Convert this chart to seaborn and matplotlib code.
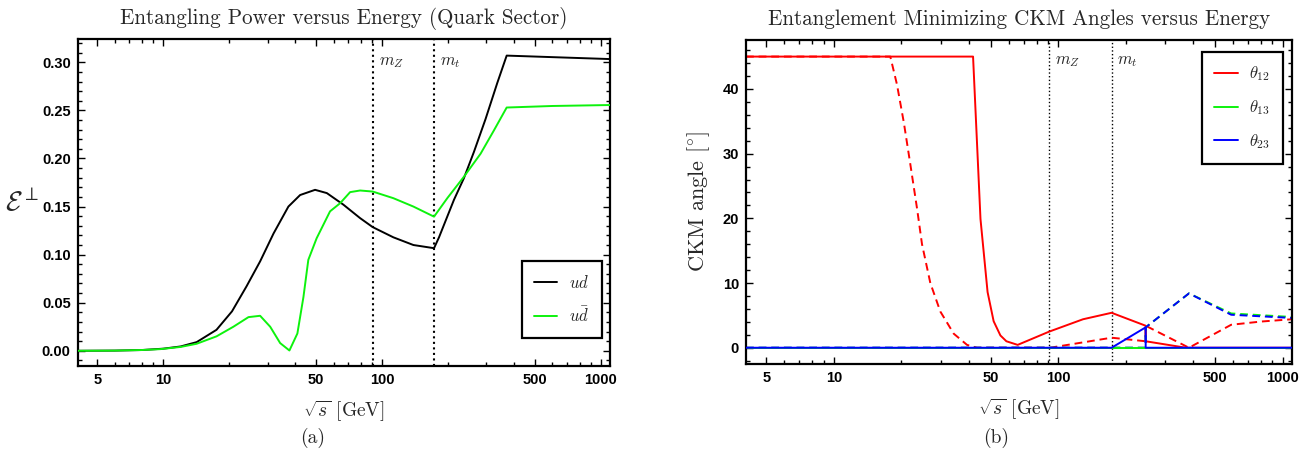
import numpy as np
import pandas as pd
import matplotlib
matplotlib.use("Agg")
import matplotlib.pyplot as plt
import seaborn as sns
from matplotlib.ticker import FixedLocator, MultipleLocator, NullFormatter, FuncFormatter

# ---------------- data ----------------
# Panel (a): entangling power
ud_x = [4.06, 6, 8, 10, 12, 14.2, 17.5, 20.6, 24.0, 27.7, 31.9, 37.3, 42.2, 49.4, 55.9, 66.5,
        79.3, 90.6, 112.6, 139, 172.7, 182, 213, 236.5, 263, 297, 336, 371, 600, 1100]
ud_y = [0, 0.0002, 0.0008, 0.0022, 0.0045, 0.009, 0.0218, 0.041, 0.067, 0.093, 0.122, 0.150,
        0.162, 0.1674, 0.164, 0.152, 0.138, 0.1286, 0.118, 0.110, 0.1067, 0.118, 0.157, 0.1795,
        0.207, 0.241, 0.2785, 0.307, 0.3054, 0.3034]
udbar_x = [4.06, 6, 8, 9.66, 12, 14.2, 17.5, 20.9, 24.5, 27.7, 30.8, 34.2, 37.7, 41.0, 43.7, 46.0,
           50.2, 57.8, 64.3, 71.4, 79.3, 90.6, 112.6, 139, 172.7, 199, 236.5, 282, 324, 371, 600, 1100]
udbar_y = [0, 0.0002, 0.0008, 0.0017, 0.004, 0.0073, 0.015, 0.025, 0.035, 0.0364, 0.025, 0.008,
           0.0003, 0.018, 0.056, 0.0946, 0.117, 0.145, 0.1535, 0.165, 0.1667, 0.1656, 0.1587,
           0.150, 0.1395, 0.159, 0.181, 0.205, 0.229, 0.253, 0.2546, 0.2556]

# Panel (b): CKM angles (solid and dashed branches)
t12_solid_x = [4.06, 41.7, 45.0, 48.4, 51.5, 55.2, 58.7, 65.9, 91.2, 128.8, 172.7, 245, 245, 370, 1100]
t12_solid_y = [45, 45, 19.9, 8.6, 4.1, 1.9, 1.0, 0.44, 2.5, 4.4, 5.4, 3.4, 1.0, 0, 0]
t12_dash_x = [4.06, 17.84, 19.1, 20.5, 21.9, 23.5, 24.7, 26.9, 29.8, 34.2, 39.2, 43.4, 92,
              172.7, 245, 245, 382, 589, 802, 1100]
t12_dash_y = [45, 45, 40.7, 34.8, 28.4, 21.4, 16.0, 10.0, 5.6, 2.17, 0.44, 0.0, 0.0,
              1.55, 1.0, 3.4, 0, 3.55, 4.05, 4.4]
t13_solid_x = [4.06, 1100]
t13_solid_y = [0, 0]
t13_dash_x = [4.06, 245, 245, 382, 589, 1100]
t13_dash_y = [0, 0, 3.15, 8.4, 5.3, 4.75]
t23_solid_x = [4.06, 172.7, 245, 245, 1100]
t23_solid_y = [0, 0, 3.15, 0, 0]
t23_dash_x = [4.06, 245, 245, 382, 589, 1100]
t23_dash_y = [0, 0, 3.15, 8.4, 5.1, 4.6]

m_Z = 91.19
m_t = 172.7
x_ticks = [5, 10, 50, 100, 500, 1000]
ya_ticks = [0.00, 0.05, 0.10, 0.15, 0.20, 0.25, 0.30]
yb_ticks = [0, 10, 20, 30, 40]

# ---------------- style ----------------
sns.set_theme(style="ticks")
plt.rcParams["font.family"] = ["Liberation Sans", "DejaVu Sans"]
plt.rcParams["mathtext.fontset"] = "cm"
plt.rcParams["axes.formatter.use_mathtext"] = True
SERIF = ["cmr10", "DejaVu Serif"]

fig = plt.figure(figsize=(13.12, 4.59), dpi=100)
axA = fig.add_axes([0.0592, 0.2033, 0.4057, 0.7118])
axB = fig.add_axes([0.5686, 0.2076, 0.4162, 0.7052])

RED, GREEN, BLUE = "#ff0000", "#0df20d", "#0000ff"
dash = (0, (4, 2.5))


def line(ax, x, y, color, ls="-", lw=1.4, label=None, z=2):
    df = pd.DataFrame({"x": x, "y": y})
    sns.lineplot(data=df, x="x", y="y", ax=ax, color=color, linestyle=ls, lw=lw,
                 estimator=None, sort=False, label=label, zorder=z, legend=False)


# Panel (a)
line(axA, ud_x, ud_y, "black", label=r"$ud$", z=3)
line(axA, udbar_x, udbar_y, GREEN, label=r"$u\bar{d}$", z=3)

# Panel (b)
line(axB, t12_dash_x, t12_dash_y, RED, ls=dash)
line(axB, t12_solid_x, t12_solid_y, RED, label=r"$\theta_{12}$")
line(axB, t13_dash_x, t13_dash_y, GREEN, ls=dash)
line(axB, t23_dash_x, t23_dash_y, BLUE, ls=dash)
line(axB, t13_solid_x, t13_solid_y, GREEN, label=r"$\theta_{13}$")
line(axB, t23_solid_x, t23_solid_y, BLUE, label=r"$\theta_{23}$", z=4)

minor_x = [v * 10 ** k for k in range(0, 4) for v in range(2, 10)]
minor_x = [v for v in minor_x if v not in x_ticks]

for ax, lw_dot in ((axA, 1.5), (axB, 1.0)):
    ax.set_xscale("log")
    ax.set_xlim(4.06, 1100)
    ax.xaxis.set_major_locator(FixedLocator(x_ticks))
    ax.xaxis.set_minor_locator(FixedLocator(minor_x))
    ax.xaxis.set_major_formatter(FuncFormatter(lambda v, p: f"{int(v)}"))
    ax.xaxis.set_minor_formatter(NullFormatter())
    ax.tick_params(which="both", direction="in", top=True, right=True, colors="black",
                   labelsize=10.5, width=1.0)
    ax.tick_params(which="major", length=5, pad=5)
    ax.tick_params(which="minor", length=3)
    for s in ax.spines.values():
        s.set_linewidth(1.6)
        s.set_color("black")
    ax.axvline(m_Z, color="black", ls=":", lw=lw_dot, zorder=1)
    ax.axvline(m_t, color="black", ls=":", lw=lw_dot, zorder=1)
    ax.set_xlabel(r"$\sqrt{s}$ [GeV]", family=SERIF, fontsize=14)
    ax.grid(False)

axA.set_ylim(-0.0155, 0.3243)
axA.yaxis.set_major_locator(FixedLocator(ya_ticks))
axA.yaxis.set_minor_locator(MultipleLocator(0.01))
axA.yaxis.set_major_formatter(FuncFormatter(lambda v, p: f"{v:.2f}"))
axB.set_ylim(-2.47, 47.56)
axB.yaxis.set_major_locator(FixedLocator(yb_ticks))
axB.yaxis.set_minor_locator(MultipleLocator(2))
axB.yaxis.set_major_formatter(FuncFormatter(lambda v, p: f"{int(v)}"))
for ax in (axA, axB):
    for lab in ax.get_xticklabels() + ax.get_yticklabels():
        lab.set_fontweight("bold")

axA.set_ylabel(r"$\mathcal{E}^{\perp}$", fontsize=20, rotation=0, va="center", ha="center")
axA.yaxis.set_label_coords(-0.105, 0.5)
axB.set_ylabel(r"CKM angle $[^{\circ}]$", family=SERIF, fontsize=16)
axB.yaxis.set_label_coords(-0.062, 0.5)
axA.xaxis.set_label_coords(0.5, -0.10)
axB.xaxis.set_label_coords(0.5, -0.10)

axA.set_title("Entangling Power versus Energy (Quark Sector)", family=SERIF, fontsize=15.2, pad=11)
axB.set_title("Entanglement Minimizing CKM Angles versus Energy", family=SERIF, fontsize=15.2, pad=11)

for ax, yv in ((axA, 0.300), (axB, 44.3)):
    ax.annotate(r"$m_Z$", xy=(m_Z, yv), xytext=(4, 0), textcoords="offset points",
                fontsize=12, va="center", ha="left")
    ax.annotate(r"$m_t$", xy=(m_t, yv), xytext=(4, 0), textcoords="offset points",
                fontsize=12, va="center", ha="left")

leg_kw = dict(loc="upper left", fontsize=12, frameon=True, fancybox=False, edgecolor="black",
              handlelength=1.4, borderpad=0.75, labelspacing=0.9, handletextpad=0.7,
              borderaxespad=0, framealpha=1)
legA = axA.legend(bbox_to_anchor=(0.834, 0.320), **leg_kw)
legA.get_frame().set_linewidth(1.6)
legB = axB.legend(bbox_to_anchor=(0.835, 0.963), **leg_kw)
legB.get_frame().set_linewidth(1.6)

fig.text(0.2386, 0.045, "(a)", family=SERIF, fontsize=14, ha="center", va="center")
fig.text(0.759, 0.045, "(b)", family=SERIF, fontsize=14, ha="center", va="center")

fig.savefig("out.png", dpi=100)
